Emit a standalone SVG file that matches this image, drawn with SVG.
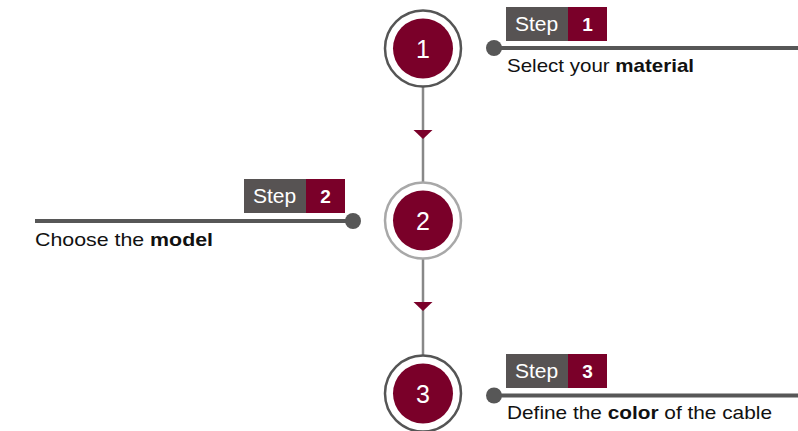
<svg xmlns="http://www.w3.org/2000/svg" width="798" height="431" viewBox="0 0 798 431">
<style>
.ring{fill:#fff;stroke-width:2.5}
.core{fill:#7a0029}
.num{font-family:"Liberation Sans",Arial,sans-serif;font-size:25px;fill:#fff;text-anchor:middle}
.sg{fill:#575353}
.sr{fill:#7a0029}
.st{font-family:"Liberation Sans",Arial,sans-serif;font-size:21px;fill:#fff}
.sn{font-family:"Liberation Sans",Arial,sans-serif;font-size:19px;font-weight:bold;fill:#fff;text-anchor:middle}
.lead{stroke:#575757;stroke-width:4;fill:none}
.dot{fill:#575757}
.lbl{font-family:"Liberation Sans",Arial,sans-serif;font-size:19px;fill:#111}
</style>
<defs>
<polygon id="tri" points="-9.5,0 9.5,0 0,9" fill="#7a0029"/>
</defs>
<g id="connectors">
<line x1="423" y1="86" x2="423" y2="356" stroke="#888" stroke-width="2.5"/>
<use href="#tri" x="423" y="130"/>
<use href="#tri" x="423" y="302"/>
</g>
<g id="node1">
<circle class="ring" cx="423" cy="48.5" r="38" stroke="#555"/>
<circle class="core" cx="423" cy="48.5" r="30"/>
<text class="num" x="423" y="57.5">1</text>
</g>
<g id="node2">
<circle class="ring" cx="423" cy="220.5" r="38" stroke="#a8a8a8"/>
<circle class="core" cx="423" cy="220.5" r="30"/>
<text class="num" x="423" y="229.5">2</text>
</g>
<g id="node3">
<circle class="ring" cx="423" cy="393.5" r="38" stroke="#555"/>
<circle class="core" cx="423" cy="393.5" r="30"/>
<text class="num" x="423" y="402.5">3</text>
</g>
<g id="step1">
<rect class="sg" x="506" y="7" width="62" height="34"/>
<rect class="sr" x="568" y="7" width="39" height="34"/>
<text class="st" x="515" y="31">Step</text>
<text class="sn" x="587.5" y="31">1</text>
<line class="lead" x1="494" y1="48" x2="798" y2="48"/>
<circle class="dot" cx="494" cy="48" r="8"/>
<text class="lbl" x="507" y="72" textLength="187" lengthAdjust="spacingAndGlyphs">Select your <tspan font-weight="bold">material</tspan></text>
</g>
<g id="step2">
<rect class="sg" x="244" y="179" width="62" height="34"/>
<rect class="sr" x="306" y="179" width="39" height="34"/>
<text class="st" x="253" y="203">Step</text>
<text class="sn" x="325.5" y="203">2</text>
<line class="lead" x1="35" y1="221" x2="353" y2="221"/>
<circle class="dot" cx="353" cy="221" r="8"/>
<text class="lbl" x="35" y="246" textLength="178" lengthAdjust="spacingAndGlyphs">Choose the <tspan font-weight="bold">model</tspan></text>
</g>
<g id="step3">
<rect class="sg" x="506" y="354" width="62" height="34"/>
<rect class="sr" x="568" y="354" width="39" height="34"/>
<text class="st" x="515" y="378">Step</text>
<text class="sn" x="587.5" y="378">3</text>
<line class="lead" x1="494" y1="395.5" x2="798" y2="395.5"/>
<circle class="dot" cx="494" cy="395.5" r="8"/>
<text class="lbl" x="507" y="419" textLength="265" lengthAdjust="spacingAndGlyphs">Define the <tspan font-weight="bold">color</tspan> of the cable</text>
</g>
</svg>
